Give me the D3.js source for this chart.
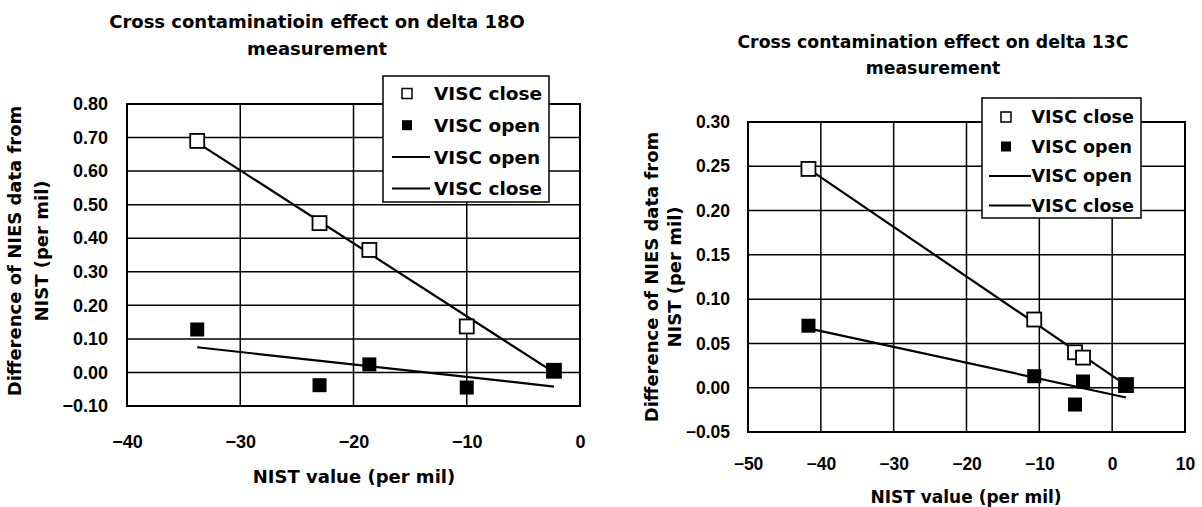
<!DOCTYPE html>
<html>
<head>
<meta charset="utf-8">
<script src="https://cdn.jsdelivr.net/npm/d3@7"></script>
<style>
  body { margin: 0; background: #fff; }
  text { font-family: "DejaVu Sans", sans-serif; font-weight: 700; fill: #000; }
  .tick text { font-family: "Liberation Sans", Arial, sans-serif; }
</style>
</head>
<body>
<svg id="field" width="1202" height="507"></svg>
<script>
// delta 18O chart
const o18CloseX = [-33.8, -23.0, -18.6, -10.0, -2.3];
const o18CloseY = [0.69, 0.445, 0.365, 0.137, 0.005];
const o18OpenX = [-33.8, -23.0, -18.6, -10.0, -2.3];
const o18OpenY = [0.128, -0.038, 0.024, -0.045, 0.005];
const o18OpenTrendX = [-33.8, -2.3];
const o18OpenTrendY = [0.075, -0.042];
const o18CloseTrendX = [-33.8, -2.3];
const o18CloseTrendY = [0.685, 0.0];
const o18XTicks = [-40, -30, -20, -10, 0];
const o18YTicks = [-0.1, 0, 0.1, 0.2, 0.3, 0.4, 0.5, 0.6, 0.7, 0.8];

// delta 13C chart
const c13CloseX = [-41.7, -10.7, -5.1, -4.0, 1.9];
const c13CloseY = [0.247, 0.077, 0.04, 0.034, 0.003];
const c13OpenX = [-41.7, -10.7, -5.1, -4.0, 1.9];
const c13OpenY = [0.07, 0.013, -0.019, 0.007, 0.003];
const c13OpenTrendX = [-41.7, 1.9];
const c13OpenTrendY = [0.067, -0.011];
const c13CloseTrendX = [-41.7, 1.9];
const c13CloseTrendY = [0.247, 0.003];
const c13XTicks = [-50, -40, -30, -20, -10, 0, 10];
const c13YTicks = [-0.05, 0, 0.05, 0.1, 0.15, 0.2, 0.25, 0.3];

const legendNames = ["VISC close", "VISC open", "VISC open", "VISC close"];

const svg = d3.select("#field");
const fmt = d3.format(".2f");

function drawChart(c)
{
  const g = svg.append("g");
  const x = d3.scaleLinear().domain(c.xDomain).range([c.left, c.right]);
  const y = d3.scaleLinear().domain(c.yDomain).range([c.bottom, c.top]);

  // grid
  g.selectAll(".hgrid").data(c.yTicks).enter().append("line")
    .attr("x1", c.left).attr("x2", c.right)
    .attr("y1", d => y(d)).attr("y2", d => y(d))
    .attr("stroke", "#000").attr("stroke-width", 1.5);
  g.selectAll(".vgrid").data(c.xTicks).enter().append("line")
    .attr("x1", d => x(d)).attr("x2", d => x(d))
    .attr("y1", c.top).attr("y2", c.bottom)
    .attr("stroke", "#000").attr("stroke-width", 1.5);
  g.append("rect").attr("x", c.left).attr("y", c.top)
    .attr("width", c.right - c.left).attr("height", c.bottom - c.top)
    .attr("fill", "none").attr("stroke", "#000").attr("stroke-width", 2);

  // axes, drawn with d3 axis then stripped of domain/tick lines
  const xAxis = g.append("g").attr("transform", "translate(0," + c.bottom + ")")
    .call(d3.axisBottom(x).tickValues(c.xTicks).tickSize(0).tickPadding(c.xPad).tickFormat(d3.format("d")));
  const yAxis = g.append("g").attr("transform", "translate(" + c.left + ",0)")
    .call(d3.axisLeft(y).tickValues(c.yTicks).tickSize(0).tickPadding(c.yPad).tickFormat(fmt));
  [xAxis, yAxis].forEach(a =>
  {
    a.select(".domain").remove();
    a.attr("font-family", null).attr("font-size", null);
    a.selectAll("text").attr("font-size", c.tickSize);
  });

  // trend lines
  const line = d3.line().x(d => x(d[0])).y(d => y(d[1]));
  [[c.openTrendX, c.openTrendY], [c.closeTrendX, c.closeTrendY]].forEach(t =>
  {
    g.append("path").datum(d3.zip(t[0], t[1])).attr("d", line)
      .attr("fill", "none").attr("stroke", "#000").attr("stroke-width", 2.2);
  });

  // markers
  const s = c.markSize;
  g.selectAll(".close").data(d3.zip(c.closeX, c.closeY)).enter().append("rect")
    .attr("x", d => x(d[0]) - s / 2).attr("y", d => y(d[1]) - s / 2)
    .attr("width", s).attr("height", s)
    .attr("fill", "#fff").attr("stroke", "#000").attr("stroke-width", 1.8);
  g.selectAll(".open").data(d3.zip(c.openX, c.openY)).enter().append("rect")
    .attr("x", d => x(d[0]) - s / 2).attr("y", d => y(d[1]) - s / 2)
    .attr("width", s).attr("height", s).attr("fill", "#000");

  // titles
  c.title.forEach((t, i) =>
  {
    g.append("text").attr("x", c.titleX).attr("y", c.titleY[i])
      .attr("text-anchor", "middle").attr("font-size", c.titleSize).text(t);
  });
  g.append("text").attr("x", c.xLabelX).attr("y", c.xLabelY)
    .attr("text-anchor", "middle").attr("font-size", c.xLabelSize)
    .text("NIST value (per mil)");
  ["Difference of NIES data from", "NIST (per mil)"].forEach((t, i) =>
  {
    g.append("text")
      .attr("transform", "translate(" + c.yLabelX[i] + "," + c.yLabelY + ") rotate(-90)")
      .attr("text-anchor", "middle").attr("dy", "0.35em")
      .attr("font-size", 18).text(t);
  });

  // legend
  const lg = g.append("g").attr("transform", "translate(" + c.legend[0] + "," + c.legend[1] + ")");
  lg.append("rect").attr("width", c.legend[2]).attr("height", c.legend[3])
    .attr("fill", "#fff").attr("stroke", "#000").attr("stroke-width", 1.5);
  legendNames.forEach((name, i) =>
  {
    const ry = c.legendRow0 + i * c.legendRowGap;
    if (i === 0)
    {
      lg.append("rect").attr("x", c.legendMark - 5).attr("y", ry - 5).attr("width", 10).attr("height", 10)
        .attr("fill", "#fff").attr("stroke", "#000").attr("stroke-width", 1.5);
    } else if (i === 1)
    {
      lg.append("rect").attr("x", c.legendMark - 5).attr("y", ry - 5).attr("width", 10).attr("height", 10)
        .attr("fill", "#000");
    } else
    {
      lg.append("line").attr("x1", c.legendLine[0]).attr("x2", c.legendLine[1])
        .attr("y1", ry).attr("y2", ry).attr("stroke", "#000").attr("stroke-width", 2);
    }
    lg.append("text").attr("x", c.legendText).attr("y", ry).attr("dy", "0.36em")
      .attr("font-size", c.legendSize).text(name);
  });
}

drawChart({
  xDomain: [-40, 0], yDomain: [-0.1, 0.8],
  left: 127, right: 580, top: 104, bottom: 406,
  xTicks: o18XTicks, yTicks: o18YTicks, xPad: 29, yPad: 19, tickSize: 18,
  closeX: o18CloseX, closeY: o18CloseY, openX: o18OpenX, openY: o18OpenY,
  openTrendX: o18OpenTrendX, openTrendY: o18OpenTrendY,
  closeTrendX: o18CloseTrendX, closeTrendY: o18CloseTrendY, markSize: 14,
  title: ["Cross contaminatioin effect on delta 18O", "measurement"],
  titleX: 317, titleY: [28, 55], titleSize: 18,
  xLabelX: 354, xLabelY: 483, xLabelSize: 18,
  yLabelX: [15, 42], yLabelY: 251,
  legend: [383, 76, 166, 126], legendRow0: 17.5, legendRowGap: 31.7,
  legendMark: 24, legendLine: [9, 47], legendText: 51, legendSize: 18.5
});

drawChart({
  xDomain: [-50, 10], yDomain: [-0.05, 0.3],
  left: 748, right: 1185, top: 122, bottom: 432,
  xTicks: c13XTicks, yTicks: c13YTicks, xPad: 26, yPad: 18, tickSize: 17.5,
  closeX: c13CloseX, closeY: c13CloseY, openX: c13OpenX, openY: c13OpenY,
  openTrendX: c13OpenTrendX, openTrendY: c13OpenTrendY,
  closeTrendX: c13CloseTrendX, closeTrendY: c13CloseTrendY, markSize: 14,
  title: ["Cross contamination effect on delta 13C", "measurement"],
  titleX: 933, titleY: [48, 74], titleSize: 17.3,
  xLabelX: 966, xLabelY: 503, xLabelSize: 17,
  yLabelX: [652, 675], yLabelY: 277,
  legend: [982, 98, 159, 120], legendRow0: 19, legendRowGap: 29.5,
  legendMark: 24, legendLine: [7, 49], legendText: 49.5, legendSize: 17.5
});
</script>
</body>
</html>
